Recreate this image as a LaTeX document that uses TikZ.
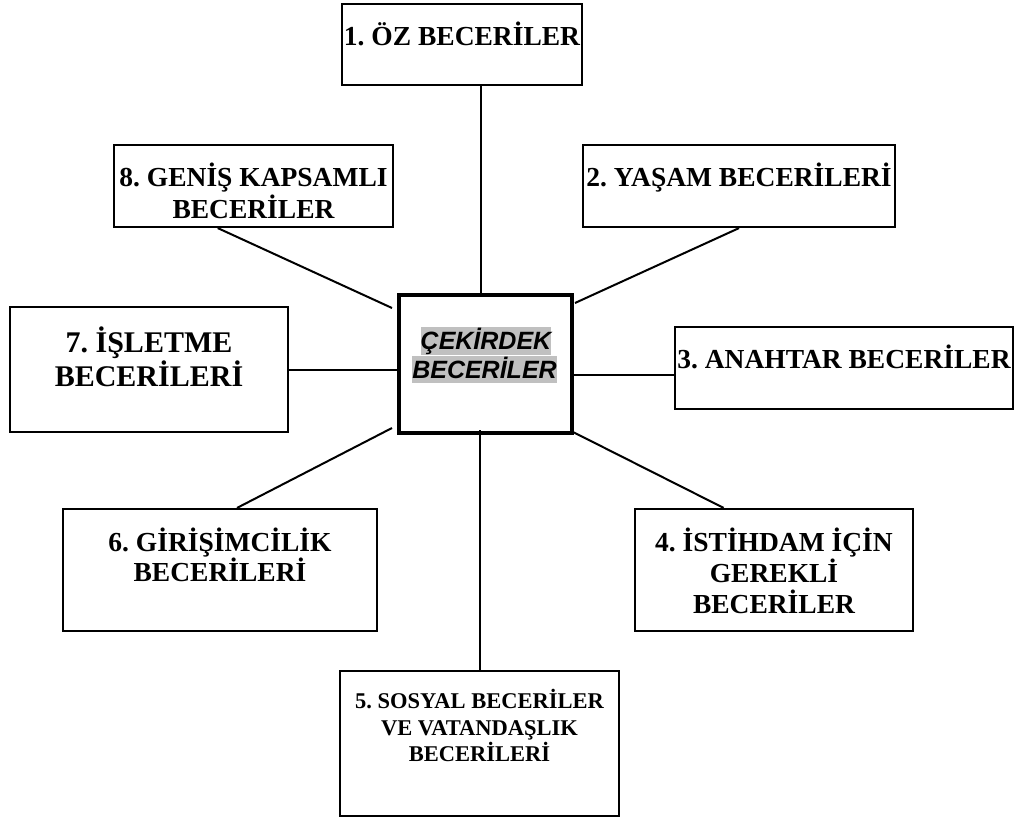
\documentclass[tikz,border=0pt]{standalone}
\usepackage{fontspec}
\setmainfont{Liberation Serif}
\newfontfamily\arialfont{Liberation Sans}
\usetikzlibrary{calc}
\definecolor{hilite}{RGB}{192,192,192}
\newcommand\capstrut{\rule{0pt}{1em}}
\frenchspacing

\tikzset{
  skillbox/.style={draw, line width=2.2pt, inner sep=0pt, fill=white},
  corebox/.style={draw, line width=4.5pt, inner sep=0pt},
  lbl/.style={anchor=north, inner sep=0pt, align=center},
  bigtxt/.style={font=\bfseries\fontsize{27.5}{31}\selectfont},
  hl/.style={fill=hilite, inner sep=0pt, text height=22.6pt, text depth=5.3pt,
             font=\arialfont\bfseries\itshape\fontsize{25}{28}\selectfont},
  link/.style={line width=2pt}
}

\begin{document}
\begin{tikzpicture}[x=1pt, y=-1pt]
\useasboundingbox[fill=white] (0,0) rectangle (1015,821);

% surrounding skill boxes
\node[skillbox, minimum width=240pt, minimum height=81pt]  (b1) at (462,44.5)  {};
\node[skillbox, minimum width=312pt, minimum height=82pt]  (b2) at (739,186)   {};
\node[skillbox, minimum width=338pt, minimum height=82pt]  (b3) at (844,368)   {};
\node[skillbox, minimum width=278pt, minimum height=122pt] (b4) at (774,570)   {};
\node[skillbox, minimum width=279pt, minimum height=145pt] (b5) at (479.5,743.5) {};
\node[skillbox, minimum width=314pt, minimum height=122pt] (b6) at (220,570)   {};
\node[skillbox, minimum width=278pt, minimum height=125pt] (b7) at (149,369.5) {};
\node[skillbox, minimum width=279pt, minimum height=82pt]  (b8) at (253.5,186) {};

% labels
\node[lbl, bigtxt] (t1) at ([yshift=-14.5pt]b1.north) {\capstrut 1. ÖZ BECERİLER};
\node[lbl, bigtxt] (t2) at ([yshift=-14.5pt]b2.north) {\capstrut 2. YAŞAM BECERİLERİ};
\node[lbl, bigtxt] (t3) at ([yshift=-14.5pt]b3.north) {\capstrut 3. ANAHTAR BECERİLER};
\node[lbl, bigtxt] (t4) at ([yshift=-15.5pt]b4.north) {\capstrut 4. İSTİHDAM İÇİN\\GEREKLİ\\BECERİLER};
\node[lbl, font=\bfseries\fontsize{22.5}{26.5}\selectfont] (t5) at ([yshift=-16pt]b5.north)
  {\capstrut 5. SOSYAL BECERİLER\\VE VATANDAŞLIK\\BECERİLERİ};
\node[lbl, font=\bfseries\fontsize{27.5}{30}\selectfont] (t6) at ([yshift=-15.5pt]b6.north)
  {\capstrut 6. GİRİŞİMCİLİK\\BECERİLERİ};
\node[lbl, font=\bfseries\fontsize{30}{34}\selectfont] (t7) at ([yshift=-16pt]b7.north)
  {\capstrut 7. İŞLETME\\BECERİLERİ};
\node[lbl, font=\bfseries\fontsize{27.5}{32}\selectfont] (t8) at ([yshift=-14.5pt]b8.north)
  {\capstrut 8. GENİŞ KAPSAMLI\\BECERİLER};

% core box
\node[corebox, minimum width=173pt, minimum height=138pt] (c) at (485.5,364) {};
\node[hl] (core1) at (486,341)   {ÇEKİRDEK};
\node[hl] (core2) at (484.5,369.5) {BECERİLER};

% connector ends inside the core box
\coordinate (k1) at (481,297);
\coordinate (k2) at (575,303);
\coordinate (k3) at (573,375);
\coordinate (k4) at (573,432);
\coordinate (k5) at (480,430);
\coordinate (k6) at (392,428);
\coordinate (k8) at (392,308);

% connectors
\draw[link] (k1 |- b1.south) -- (k1);
\draw[link] (b2.south) -- (k2);
\draw[link] (k3) -- (k3 -| b3.west);
\draw[link] ($(b4.north west)!0.32!(b4.north east)$) -- (k4);
\draw[link] (k5) -- (k5 |- b5.north);
\draw[link] ($(b6.north west)!0.554!(b6.north east)$) -- (k6);
\draw[link] (b7.east) -- (b7.east -| c.west);
\draw[link] ($(b8.south west)!0.373!(b8.south east)$) -- (k8);
\end{tikzpicture}
\end{document}
